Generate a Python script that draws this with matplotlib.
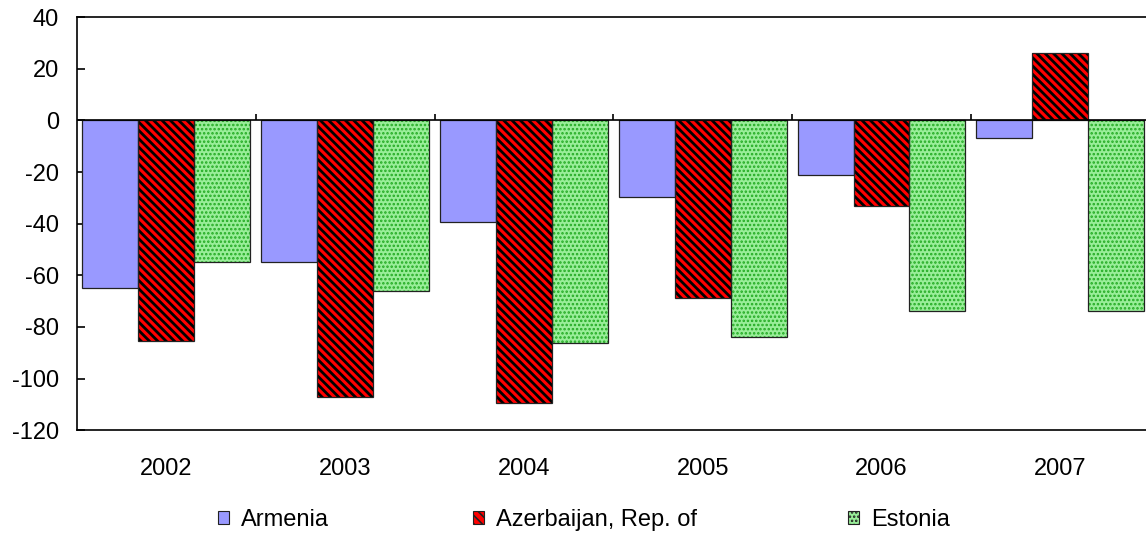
import matplotlib
matplotlib.use("Agg")
import matplotlib.pyplot as plt
from matplotlib.patches import Patch
import numpy as np

plt.rcParams['font.family'] = ['Liberation Sans', 'DejaVu Sans']
plt.rcParams['font.size'] = 17
plt.rcParams['axes.unicode_minus'] = False

years = ["2002", "2003", "2004", "2005", "2006", "2007"]
armenia = [-65, -55, -39.5, -29.5, -21.3, -7]
azerbaijan = [-85.3, -107, -109.3, -69, -33.3, 26]
estonia = [-54.7, -66, -86.4, -84, -74, -74]

series = ["Armenia", "Azerbaijan, Rep. of", "Estonia"]
fills = ["#9999FF", "#FF0000", "#99EE99"]
hatch_colors = [None, "black", "#22AA22"]
hatches = [None, "\\\\\\\\", "...."]

fig = plt.figure(figsize=(11.46, 5.35), dpi=100)
ax = fig.add_axes([0.0672, 0.196, 0.936, 0.772])

x = np.arange(len(years))
w = 0.313
handles = []
for k, (vals, name) in enumerate(zip([armenia, azerbaijan, estonia], series)):
    pos = x + (k - 1) * w
    if hatches[k]:
        plt.rcParams['hatch.linewidth'] = 2.0 if k == 1 else 1.2
        ax.bar(pos, vals, w, color=fills[k], edgecolor=hatch_colors[k],
               hatch=hatches[k], linewidth=0, zorder=2)
    else:
        ax.bar(pos, vals, w, color=fills[k], linewidth=0, zorder=2)
    # outline
    ax.bar(pos, vals, w, fill=False, edgecolor="#222222", linewidth=0.9, zorder=3)
    handles.append(Patch(facecolor=fills[k], edgecolor="#222222",
                         hatch=hatches[k], linewidth=0.8))

ax.axhline(0, color="black", linewidth=1.2, zorder=4)
ax.vlines(x[:-1] + 0.5, 0, 2.6, color="black", linewidth=1.2, zorder=4)

ax.set_xlim(-0.5, len(years) - 0.5)
ax.set_ylim(-120, 40)
ax.set_yticks(np.arange(-120, 41, 20))
ax.set_xticks(x)
ax.set_xticklabels(years)
ax.tick_params(axis="x", length=0, pad=20)
ax.tick_params(axis="y", direction="in", length=6, width=1.2, pad=13)
for s in ax.spines.values():
    s.set_linewidth(1.2)

legend_x = [0.190, 0.4125, 0.7397]
for hx, h, name in zip(legend_x, handles, series):
    fig.legend([h], [name], loc="center left", bbox_to_anchor=(hx, 0.028),
               frameon=False, handlelength=0.48, handleheight=0.48,
               handletextpad=0.5, borderpad=0, borderaxespad=0, fontsize=17)

fig.savefig("out.png", dpi=100)
